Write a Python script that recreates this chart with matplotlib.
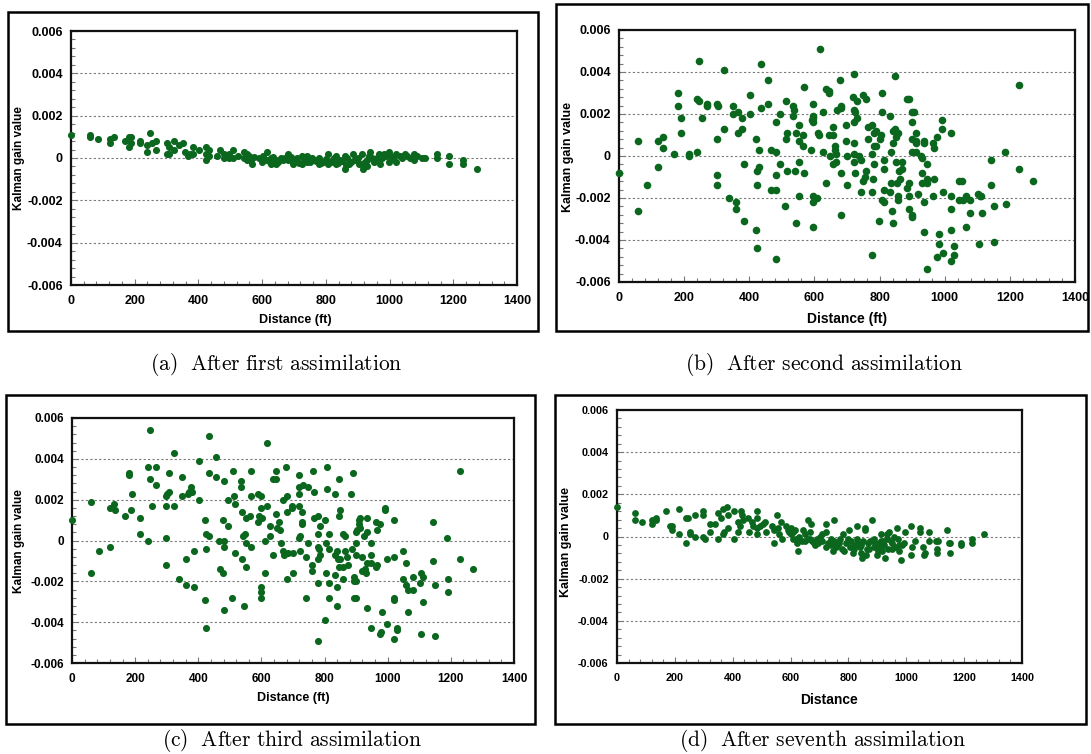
import matplotlib
matplotlib.use("Agg")
import matplotlib.pyplot as plt
from matplotlib.patches import Rectangle
from matplotlib.ticker import MultipleLocator, FixedLocator, FixedFormatter

# ---------------------------------------------------------------------------
# Kalman gain values (x 1e-3) against well distance (ft) for four assimilation steps
# ---------------------------------------------------------------------------
dist_a = [0, 60, 60, 85, 121, 121, 135, 170, 181, 181,
          189, 189, 217, 217, 239, 239, 249, 255, 268, 268,
          301, 301, 307, 307, 324, 324, 338, 351, 359, 366,
          372, 384, 384, 403, 425, 425, 425, 432, 432, 458,
          469, 480, 480, 496, 496, 509, 509, 523, 543, 543,
          553, 553, 559, 564, 567, 589, 603, 614, 614, 627,
          627, 644, 644, 658, 671, 682, 682, 698, 698, 709,
          724, 724, 742, 742, 756, 764, 778, 778, 791, 808,
          808, 822, 833, 833, 844, 859, 859, 866, 873, 884,
          890, 901, 912, 912, 917, 928, 928, 939, 945, 950,
          966, 969, 975, 983, 988, 997, 997, 1021, 1021, 1032,
          1049, 1056, 1076, 1078, 1103, 1110, 1150, 1150, 1188, 1188,
          1229, 1229, 1273,
          560, 575, 600, 620, 635, 650, 665, 690, 705, 715,
          730, 750, 770, 785, 800, 815, 825, 838, 850, 862,
          878, 895, 905, 922, 935, 955, 962, 980, 1000, 1010,
          1040, 1065, 1085]
gain_a = [1.1, 1.1, 1.0, 0.9, 0.9, 0.7, 1.0, 0.8, 1.0, 0.5,
          1.0, 0.7, 0.8, 0.7, 0.6, 0.3, 1.2, 0.7, 0.8, 0.4,
          0.7, 0.2, 0.5, 0.2, 0.8, 0.4, 0.6, 0.7, 0.3, 0.1,
          0.2, 0.5, 0.2, 0.4, 0.5, 0.2, -0.1, 0.4, 0.1, 0.1,
          0.4, 0.2, 0.0, 0.2, 0.0, 0.4, 0.0, 0.1, 0.3, 0.0,
          0.2, -0.1, 0.1, -0.1, -0.3, 0.0, 0.1, 0.3, -0.1, 0.0,
          -0.3, -0.1, -0.3, 0.0, 0.0, 0.2, -0.1, -0.2, -0.3, 0.0,
          0.1, -0.3, 0.1, -0.2, 0.0, -0.1, 0.0, -0.3, -0.2, 0.2,
          -0.3, -0.1, 0.1, -0.3, -0.1, 0.1, -0.5, 0.0, -0.3, 0.2,
          -0.1, 0.0, 0.2, -0.3, -0.5, -0.1, -0.4, 0.3, 0.0, -0.2,
          0.2, -0.3, 0.0, 0.2, 0.1, 0.3, -0.2, 0.2, -0.2, 0.1,
          0.2, 0.1, 0.2, -0.1, 0.0, 0.0, 0.2, 0.0, 0.1, -0.3,
          -0.1, -0.3, -0.5,
          -0.05, 0.05, -0.2, -0.15, 0.05, -0.2, -0.1, 0.05, -0.15, -0.25,
          -0.05, -0.2, -0.15, -0.25, -0.05, -0.2, 0.0, -0.25, -0.15, -0.35,
          -0.2, -0.05, -0.3, -0.2, 0.1, -0.1, 0.0, 0.1, 0.1, 0.0,
          0.0, 0.0, 0.1]

dist_b = [0, 59, 59, 85, 120, 120, 134, 134, 170, 180,
          180, 189, 189, 216, 216, 240, 246, 246, 240, 254,
          269, 269, 300, 304, 300, 300, 300, 323, 323, 339,
          349, 349, 360, 360, 364, 364, 378, 378, 383, 383,
          402, 402, 420, 420, 424, 424, 424, 431, 431, 437,
          437, 456, 456, 467, 467, 481, 481, 481, 481, 481,
          494, 494, 509, 512, 512, 516, 516, 535, 537, 535,
          540, 542, 542, 552, 552, 552, 552, 564, 564, 568,
          568, 590, 592, 597, 597, 597, 597, 597, 597, 597,
          607, 611, 614, 617, 625, 625, 635, 635, 644, 644,
          644, 648, 656, 656, 656, 662, 664, 667, 667, 669,
          678, 683, 683, 683, 683, 698, 698, 700, 701, 718,
          720, 720, 725, 720, 722, 720, 720, 724, 731, 731,
          736, 742, 742, 750, 758, 750, 754, 758, 766, 766,
          776, 776, 778, 778, 780, 782, 784, 784, 788, 788,
          799, 800, 803, 806, 806, 806, 814, 814, 814, 814,
          832, 835, 835, 832, 840, 840, 839, 840, 846, 848,
          850, 850, 853, 856, 858, 858, 860, 864, 869, 870,
          885, 890, 885, 890, 890, 890, 899, 899, 899, 899,
          899, 901, 907, 913, 911, 911, 911, 917, 927, 930,
          930, 930, 935, 935, 937, 935, 945, 945, 947, 947,
          964, 966, 966, 964, 975, 975, 982, 982, 991, 991,
          996, 996, 1018, 1018, 1018, 1020, 1020, 1030, 1030, 1045,
          1052, 1045, 1055, 1065, 1065, 1079, 1079, 1103, 1108, 1112,
          1105, 1113, 1143, 1143, 1150, 1150, 1185, 1187, 1228, 1228,
          1270]
gain_b = [-0.8, 0.7, -2.6, -1.4, 0.7, -0.5, 0.9, 0.4, 0.1, 3.0,
          2.4, 1.8, 1.1, 0.1, 0.0, 2.7, 4.5, 2.6, 0.2, 1.8,
          2.5, 2.4, 2.5, 2.4, 0.8, -0.9, -1.4, 4.1, 1.3, -2.0,
          2.4, 2.0, -2.2, -2.5, 2.1, 1.1, 1.8, 1.3, -0.4, -3.1,
          2.9, 2.0, 0.8, -3.5, -1.4, -0.7, -4.4, -0.5, 0.3, 4.4,
          2.3, 3.6, 2.5, 0.3, -1.6, 1.6, 0.2, -0.9, -1.6, -4.9,
          2.0, -0.4, -2.4, 2.6, 0.8, 1.1, -0.7, 2.4, 2.2, 1.9,
          -0.7, 1.1, -3.2, 1.5, 0.7, -0.3, -1.9, 1.0, 0.5, 3.3,
          -0.8, 0.3, 1.7, 1.9, 1.8, 1.6, 2.5, -1.9, -2.2, -3.4,
          -2.0, 1.1, 1.0, 5.1, 2.1, 0.2, -1.3, 3.2, 3.1, 3.0,
          1.0, 0.0, 1.4, 1.0, -0.4, 0.5, 0.3, -0.3, 0.1, 2.2,
          3.6, 2.4, 2.3, -0.8, -2.8, 1.5, 0.7, 0.0, -1.4, 2.8,
          3.9, 2.2, 2.1, 1.6, 0.6, 0.1, -0.3, -0.8, 1.8, 2.6,
          0.0, -0.2, -1.7, 2.9, 2.7, -1.2, -1.0, -0.7, 0.8, 1.4,
          1.5, 0.1, -4.7, -1.7, -1.1, -0.4, 1.1, 0.5, 0.5, 1.2,
          -3.1, 0.8, 1.0, 3.0, 2.1, -2.1, -2.2, -0.2, -0.6, -1.6,
          1.9, 0.2, -1.3, -1.7, 1.2, 0.6, -2.6, -3.2, 3.8, 1.3,
          0.9, -0.3, -1.3, -1.9, -2.1, 1.1, -0.7, -1.1, -0.3, -0.6,
          2.7, 2.7, -1.5, -1.3, -1.9, -2.5, -2.8, -2.9, 1.6, 0.8,
          0.2, 2.1, 2.1, 1.1, 0.7, 0.6, 0.2, -1.8, 0.0, -0.1,
          -0.8, -1.3, 0.7, 0.6, -2.2, -3.6, -1.1, -1.3, -0.4, -5.4,
          0.6, 0.4, -1.1, -1.9, 0.9, -4.8, -3.7, -4.2, 1.7, 1.3,
          -1.7, -4.6, 1.1, -1.9, -2.5, -3.5, -5.0, -4.3, -4.7, -1.2,
          -1.2, -2.1, -2.1, -1.9, -3.4, -2.1, -2.7, -1.8, -1.9, -1.9,
          -4.2, -2.7, -0.2, -1.4, -2.4, -4.1, 0.2, -2.3, 3.4, -0.6,
          -1.2]

dist_c = [0, 60, 60, 85, 119, 119, 133, 135, 168, 180,
          180, 188, 190, 215, 215, 240, 240, 247, 247, 254,
          267, 267, 298, 300, 298, 298, 298, 306, 306, 323,
          323, 339, 349, 349, 360, 360, 367, 372, 378, 380,
          385, 385, 402, 402, 420, 420, 424, 424, 424, 433,
          435, 435, 455, 455, 466, 468, 477, 479, 483, 483,
          483, 483, 494, 494, 508, 510, 513, 516, 516, 535,
          535, 538, 538, 541, 544, 549, 550, 552, 552, 564,
          566, 568, 568, 588, 590, 593, 599, 599, 601, 599,
          599, 599, 610, 612, 617, 617, 627, 627, 636, 645,
          638, 645, 645, 649, 656, 660, 663, 667, 670, 667,
          678, 682, 682, 682, 685, 698, 698, 700, 700, 718,
          720, 720, 720, 720, 722, 722, 729, 729, 729, 731,
          740, 740, 749, 749, 759, 759, 762, 768, 768, 779,
          779, 779, 781, 779, 779, 779, 787, 787, 800, 800,
          803, 803, 807, 807, 815, 815, 815, 815, 833, 833,
          833, 840, 842, 840, 840, 847, 847, 850, 847, 850,
          859, 864, 859, 859, 864, 870, 873, 884, 886, 889,
          892, 892, 892, 899, 899, 902, 899, 899, 899, 908,
          910, 912, 912, 917, 920, 925, 928, 930, 935, 935,
          935, 935, 947, 947, 947, 947, 963, 966, 963, 966,
          975, 975, 980, 982, 991, 991, 997, 997, 1019, 1019,
          1019, 1021, 1021, 1030, 1030, 1048, 1048, 1058, 1058, 1065,
          1065, 1080, 1080, 1102, 1105, 1105, 1113, 1113, 1144, 1144,
          1149, 1149, 1187, 1190, 1190, 1229, 1229, 1270]
gain_c = [1.0, 1.9, -1.6, -0.5, 1.6, -0.3, 1.8, 1.5, 1.2, 3.3,
          3.2, 1.5, 2.3, 1.1, 0.3, 3.6, 0.0, 5.4, 3.0, 1.7,
          2.7, 3.6, 2.2, 2.3, 1.7, 0.1, -1.2, 3.3, 2.4, 4.3,
          1.7, -1.9, 3.1, 2.2, -0.9, -2.2, 2.3, 2.4, 2.6, 2.4,
          -0.5, -2.3, 3.9, 2.0, 1.0, -2.9, 0.3, -0.4, -4.3, 0.2,
          5.1, 3.3, 4.1, 3.1, 0.0, -1.4, 1.0, -1.6, 2.9, 0.0,
          -0.3, -3.4, 2.0, 0.7, -2.8, 3.4, 2.2, 1.8, -0.6, 2.9,
          2.6, 1.4, -0.9, 0.2, -3.2, 0.3, 1.1, -0.1, -1.3, 1.2,
          2.2, 3.4, -0.3, 0.9, 2.3, 1.2, 2.2, 1.6, 1.1, -2.3,
          -2.5, -2.8, 0.0, -1.6, 4.8, 1.7, 0.2, 0.7, 3.0, 3.0,
          -0.7, 3.4, 1.3, 0.6, 0.9, 0.5, -0.1, -0.5, -0.7, 2.0,
          3.6, 2.2, 1.4, -1.9, -0.6, 1.7, 1.6, -0.6, -1.6, 1.7,
          3.2, 2.6, 2.3, 0.1, 0.2, -0.5, 1.4, 0.9, 0.8, 2.7,
          -0.8, -2.8, 2.6, -0.1, -1.2, -1.5, 3.4, 2.4, 1.1, 1.2,
          0.3, -0.3, -0.4, -0.9, -2.1, -4.9, 0.7, -0.7, 1.0, -3.9,
          -1.6, -0.1, 3.6, 2.5, 0.3, -0.4, -2.1, -2.8, 2.3, -0.7,
          -1.7, -0.5, -0.9, -2.3, -3.2, 3.0, 1.2, 1.5, -1.3, -0.9,
          0.3, 0.2, -1.3, -1.9, -0.5, -0.8, -1.2, 2.3, -0.4, 3.3,
          -1.8, -2.0, -2.8, -2.8, 0.4, 0.5, -0.1, -0.7, -2.0, 1.0,
          0.8, 1.1, 0.6, -0.8, -1.5, 0.2, -1.4, -1.6, 0.4, 1.1,
          -1.1, -3.3, -0.1, -0.7, -1.1, -4.3, -1.3, -1.2, 0.9, 0.5,
          0.8, -4.6, -4.5, -3.5, 1.6, 1.5, -0.9, -4.1, 1.0, -0.8,
          -2.8, -2.9, -4.8, -4.3, -4.4, -0.5, -1.9, -1.1, -2.2, -2.4,
          -3.5, -1.8, -2.4, -2.1, -1.6, -4.6, -1.8, -3.0, 0.9, -1.0,
          -2.2, -4.7, 0.1, -1.9, -2.5, 3.4, -0.9, -1.4]

dist_d = [0, 61, 61, 85, 121, 121, 135, 135, 170, 183,
          190, 190, 216, 216, 240, 246, 240, 252, 254, 268,
          268, 299, 299, 299, 305, 323, 323, 340, 349, 349,
          359, 365, 365, 371, 380, 382, 382, 403, 403, 418,
          418, 424, 430, 433, 436, 454, 457, 465, 471, 483,
          483, 483, 483, 495, 503, 512, 515, 537, 543, 543,
          552, 558, 560, 566, 570, 584, 590, 596, 602, 608,
          602, 614, 620, 622, 626, 644, 650, 650, 659, 667,
          667, 671, 680, 685, 690, 703, 709, 721, 724, 724,
          739, 739, 745, 750, 750, 756, 768, 777, 780, 786,
          798, 802, 807, 816, 822, 831, 831, 834, 840, 843,
          848, 851, 857, 857, 860, 864, 869, 881, 887, 890,
          893, 899, 903, 911, 911, 914, 917, 923, 928, 932,
          935, 940, 946, 952, 958, 967, 970, 974, 976, 982,
          992, 997, 1018, 1018, 1021, 1030, 1048, 1048, 1059, 1062,
          1065, 1080, 1080, 1101, 1109, 1105, 1107, 1142, 1146, 1152,
          1152, 1188, 1190, 1228, 1228, 1270,
          610, 630, 640, 660, 675, 695, 710, 730, 760, 770,
          790, 810, 820, 845, 870, 875, 895, 905, 920, 938,
          950, 960, 985]
gain_d = [1.4, 1.1, 0.8, 0.7, 0.6, 0.8, 0.9, 0.8, 1.2, 0.5,
          0.5, 0.3, 1.3, 0.1, 0.9, 0.9, -0.3, 0.2, 0.1, 1.0,
          0.0, 1.2, 1.0, 0.0, -0.1, 0.6, 0.2, 0.6, 1.1, -0.1,
          0.9, 1.3, 0.1, 0.2, 1.4, 1.0, 0.4, 1.2, -0.1, 0.7,
          0.2, 0.5, 1.2, 1.0, 0.8, 0.9, 0.2, 0.7, 0.5, 1.2,
          0.9, 0.4, 0.1, 0.5, 0.6, 0.7, 0.2, 0.5, 0.3, -0.3,
          1.0, 0.4, 0.1, 0.7, -0.1, 0.5, 0.3, 0.2, 0.1, -0.1,
          0.4, 0.3, -0.1, -0.3, -0.7, 0.3, 0.1, -0.2, 0.8, 0.2,
          -0.1, 0.6, -0.3, -0.4, -0.1, 0.0, -0.2, 0.6, 0.2, -0.5,
          -0.1, -0.4, -0.7, 0.8, -0.2, -0.5, -0.3, -0.6, 0.1, -0.7,
          -0.1, 0.3, -0.5, -0.8, -0.4, 0.5, -0.1, -0.3, -0.5, -0.8,
          -1.0, -0.2, 0.3, 0.4, -0.9, -0.6, -0.3, 0.8, -0.1, -0.5,
          -0.3, -0.9, -0.7, 0.1, -0.2, -0.5, -0.7, -0.4, -1.0, 0.1,
          -0.1, 0.2, -0.2, -0.6, 0.0, 0.4, -0.1, -0.4, -0.7, -1.1,
          -0.3, 0.2, 0.5, -0.9, -0.5, -0.2, 0.4, 0.2, -0.5, -0.9,
          -0.8, 0.2, -0.2, -0.2, -0.2, -0.6, -0.8, 0.3, -0.3, -0.3,
          -0.8, -0.3, -0.4, -0.1, -0.3, 0.1,
          0.2, 0.0, -0.2, -0.1, -0.2, -0.3, 0.1, -0.3, -0.4, -0.1,
          -0.3, -0.2, -0.6, -0.4, -0.6, -0.2, -0.4, -0.3, -0.2, -0.6,
          -0.3, -0.5, -0.4]

y_ticks = [-0.006, -0.004, -0.002, 0.0, 0.002, 0.004, 0.006]
y_tick_labels = ["-0.006", "-0.004", "-0.002", "0", "0.002", "0.004", "0.006"]
x_ticks = [0, 200, 400, 600, 800, 1000, 1200, 1400]
x_tick_labels = ["0", "200", "400", "600", "800", "1000", "1200", "1400"]

captions = ["(a)  After first assimilation", "(b)  After second assimilation",
            "(c)  After third assimilation", "(d)  After seventh assimilation"]
x_titles = ["Distance (ft)", "Distance (ft)", "Distance (ft)", "Distance"]
y_title = "Kalman gain value"

# ---------------------------------------------------------------------------
plt.rcParams["font.family"] = ["Liberation Sans", "DejaVu Sans"]
plt.rcParams["mathtext.fontset"] = "cm"

W, H = 1091, 754
fig = plt.figure(figsize=(W / 100, H / 100), dpi=100)
fig.patch.set_facecolor("white")


def fx(px):
    return px / W


def fy(py):
    return 1.0 - py / H


DOT = "#0a671d"

layout = [
    # axes (l, t, r, b) px, frame px, xlabel centre, ylabel centre, caption centre,
    # tick size, xlabel size, ylabel size, marker size
    dict(ax=(71, 31, 517, 285), frame=(8, 12, 538, 331), xl=(295, 320), yl=(19, 158),
         cap=(276, 364), tsz=9, xsz=9, ysz=8.5, ms=26),
    dict(ax=(619, 30, 1075, 282), frame=(556, 4, 1088, 331), xl=(847, 319), yl=(568, 157),
         cap=(824, 364), tsz=9, xsz=10, ysz=9, ms=30),
    dict(ax=(72, 418, 514, 663), frame=(6, 395, 535, 724), xl=(293, 698), yl=(19, 541),
         cap=(292, 741), tsz=8.5, xsz=9, ysz=8.5, ms=26),
    dict(ax=(617, 410, 1022, 663), frame=(555, 395, 1086, 724), xl=(829, 700), yl=(566, 542),
         cap=(823, 741), tsz=7.8, xsz=10, ysz=9, ms=24),
]

series = [(dist_a, gain_a), (dist_b, gain_b), (dist_c, gain_c), (dist_d, gain_d)]

for i, (spec, (dist, gain)) in enumerate(zip(layout, series)):
    l, t, r, b = spec["ax"]
    ax = fig.add_axes([fx(l), fy(b), (r - l) / W, (b - t) / H])
    ax.scatter(dist, [g * 1e-3 for g in gain], s=spec["ms"], color=DOT,
               linewidths=0, zorder=3, clip_on=False)
    ax.set_xlim(0, 1400)
    ax.set_ylim(-0.006, 0.006)

    ax.xaxis.set_major_locator(FixedLocator(x_ticks))
    ax.xaxis.set_major_formatter(FixedFormatter(x_tick_labels))
    ax.yaxis.set_major_locator(FixedLocator(y_ticks))
    ax.yaxis.set_major_formatter(FixedFormatter(y_tick_labels))
    ax.xaxis.set_minor_locator(MultipleLocator(40))
    ax.yaxis.set_minor_locator(MultipleLocator(0.0004))

    ax.tick_params(which="both", direction="in", color="#777777", width=0.8)
    ax.tick_params(which="major", length=4)
    ax.tick_params(which="minor", length=3)
    ax.tick_params(axis="x", which="major", pad=7, labelsize=spec["tsz"])
    ax.tick_params(axis="y", which="major", pad=6, labelsize=spec["tsz"])
    for lab in ax.get_xticklabels() + ax.get_yticklabels():
        lab.set_fontweight("bold")

    ax.yaxis.grid(True, which="major", linestyle=(0, (2, 2)), color="#7a7a7a",
                  linewidth=0.8, zorder=1)
    ax.set_axisbelow(True)
    for sp in ax.spines.values():
        sp.set_linewidth(1.6)
        sp.set_color("#111111")

    fig.text(fx(spec["xl"][0]), fy(spec["xl"][1]), x_titles[i], ha="center", va="center",
             fontsize=spec["xsz"], fontweight="bold")
    fig.text(fx(spec["yl"][0]), fy(spec["yl"][1]), y_title, ha="center", va="center",
             rotation=90, fontsize=spec["ysz"], fontweight="bold")

    cap = captions[i].replace(" ", r"\ ")
    fig.text(fx(spec["cap"][0]), fy(spec["cap"][1]), r"$\mathrm{" + cap + "}$",
             ha="center", va="center", fontsize=15.5)

    fl, ft, fr, fb = spec["frame"]
    fig.patches.append(Rectangle((fx(fl), fy(fb)), (fr - fl) / W, (fb - ft) / H,
                                 transform=fig.transFigure, fill=False,
                                 edgecolor="black", linewidth=1.8))

fig.savefig("out.png", dpi=100, facecolor="white")
